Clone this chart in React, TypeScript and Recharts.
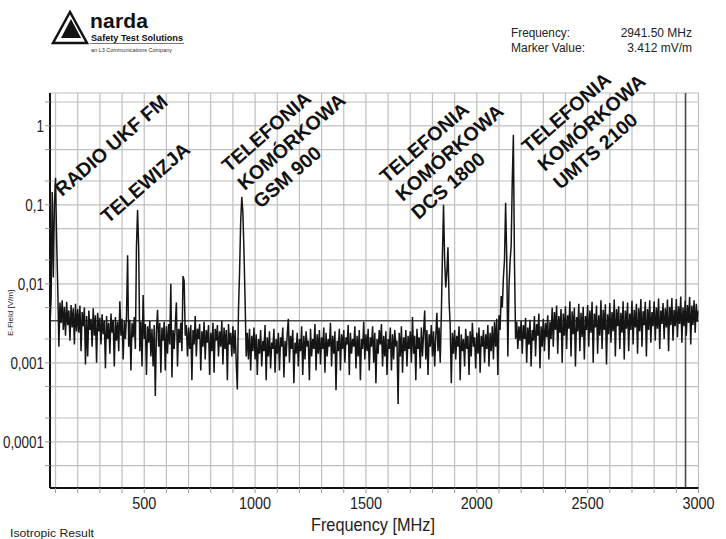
import { LineChart, Line, XAxis, YAxis, CartesianGrid, ReferenceLine } from 'recharts';

// sweep of the analyser: 75 MHz .. 3000 MHz, 5 MHz per sample
const sweepStartMhz = 75;
const sweepStepMhz = 5;

// isotropic E-field, in mV/m (one value per sample)
const fieldMv = [
    3.0, 6.5, 145, 12, 105,
    220, 35, 9, 1.6, 5.8, 3.2, 6.2, 2.6, 5.1, 2.2, 5.9, 3.0, 4.6, 1.9, 5.4, 2.8, 4.9, 1.7, 5.6, 2.5,
    4.8, 2.4, 5.3, 1.4, 4.4, 2.9, 5.0, 0.95, 3.9, 1.2, 4.6, 2.6, 3.6, 1.6, 4.9, 2.2, 4.0, 1.0, 4.3, 2.5,
    3.7, 1.7, 4.1, 2.3, 3.4, 0.85, 3.9, 2.0, 3.2, 1.3, 4.2, 2.4, 3.5, 0.9, 3.8, 1.9, 3.3, 1.4, 6.0, 2.2,
    3.6, 1.1, 3.4, 2.0, 3.9, 23, 1.6, 3.5, 0.8, 3.2, 2.1, 3.8, 1.5, 30, 86, 28, 1.4, 3.3, 0.9, 7.2,
    2.0, 3.1, 0.7, 2.9, 1.8, 3.4, 1.2, 2.7, 0.9, 3.0, 0.38, 2.5, 4.7, 1.6, 3.2, 0.75, 2.8, 1.9, 3.3, 0.8,
    2.9, 1.3, 3.1, 1.7, 10, 0.65, 2.6, 1.5, 3.0, 5.8, 0.9, 2.7, 1.8, 3.2, 1.4, 12.5, 11, 2.2, 3.0, 1.2,
    2.8, 1.5, 3.0, 0.6, 2.6, 1.7, 3.9, 1.2, 2.7, 2.0, 3.1, 0.8, 2.5, 1.6, 3.3, 1.1, 2.6, 1.8, 3.0, 0.7,
    2.4, 1.4, 3.2, 0.75, 2.7, 1.9, 3.0, 1.2, 2.5, 1.6, 3.4, 0.95, 2.8, 1.5, 2.6, 0.6, 3.1, 1.7, 2.4, 1.2,
    2.9, 1.3, 2.6, 1.0, 0.46, 4.5, 14, 60, 126, 80, 25, 6, 1.2, 2.4, 1.1, 2.7, 0.8, 2.2, 1.4, 2.8,
    1.1, 2.3, 0.7, 2.0, 1.3, 2.6, 0.9, 1.9, 1.4, 3.0, 0.6, 2.1, 1.2, 2.5, 0.85, 1.8, 1.5, 2.7, 0.75, 2.0,
    1.3, 2.4, 0.8, 2.1, 1.6, 2.8, 0.65, 1.9, 1.2, 2.3, 3.6, 1.0, 2.2, 1.5, 2.6, 0.55, 1.8, 1.3, 2.4, 0.9,
    2.0, 1.4, 2.9, 0.7, 2.2, 1.1, 2.5, 1.6, 1.9, 0.6, 2.7, 1.2, 2.0, 1.5, 3.1, 0.8, 2.3, 1.3, 2.6, 0.95,
    2.1, 1.5, 2.8, 0.75, 2.4, 1.2, 2.0, 1.6, 3.2, 0.9, 2.2, 1.3, 2.5, 0.45, 1.9, 1.4, 2.7, 0.8, 2.3, 1.5,
    2.6, 1.0, 2.1, 1.7, 3.0, 0.7, 2.4, 1.3, 2.0, 1.6, 2.9, 0.85, 2.2, 1.2, 2.6, 0.6, 2.0, 1.5, 3.3, 1.1,
    2.3, 1.4, 2.7, 0.8, 2.1, 1.6, 2.9, 1.0, 2.4, 0.55, 2.0, 1.3, 2.6, 1.7, 3.1, 0.9, 2.2, 1.2, 2.5, 0.7,
    2.0, 1.5, 2.8, 0.8, 2.3, 1.1, 2.6, 1.6, 1.9, 0.3, 2.4, 1.2, 2.9, 0.75, 2.1, 1.4, 2.6, 0.9, 2.2, 1.5,
    2.5, 1.0, 3.8, 1.3, 2.2, 0.6, 2.7, 1.5, 2.1, 0.85, 2.8, 1.2, 2.4, 4.6, 1.1, 2.6, 0.7, 2.3, 1.6, 3.0,
    1.2, 2.5, 0.9, 2.2, 4.3, 1.4, 2.8, 1.0, 4.0, 23, 100, 20, 9, 14, 29, 6, 3.0, 0.55, 2.4, 1.3,
    2.6, 1.1, 2.2, 1.6, 2.9, 0.6, 2.3, 1.4, 2.0, 0.9, 2.7, 1.5, 2.2, 0.7, 2.5, 1.2, 3.2, 1.6, 2.1, 0.85,
    2.4, 1.3, 2.8, 0.75, 2.2, 1.6, 2.6, 1.0, 2.3, 1.5, 3.0, 0.9, 2.4, 1.4, 2.9, 1.1, 3.3, 1.6, 3.6, 0.7,
    4.0, 2.6, 7.0, 5.0, 12, 20, 106, 22, 1.2, 9, 19, 30, 200, 770, 18, 2.0, 3.3, 1.5, 2.9, 1.9,
    3.4, 1.3, 3.0, 2.0, 3.7, 1.0, 2.8, 1.7, 3.5, 0.9, 2.6, 1.9, 3.9, 1.2, 3.1, 2.2, 4.2, 0.85, 2.9, 1.6,
    3.6, 1.4, 3.2, 2.1, 4.0, 1.1, 3.3, 2.0, 5.0, 1.6, 4.4, 2.6, 5.3, 1.3, 3.9, 2.4, 4.8, 1.0, 4.2, 2.2,
    5.2, 1.5, 4.0, 2.7, 6.0, 1.2, 4.5, 2.3, 5.0, 0.9, 3.8, 2.5, 5.6, 1.4, 4.3, 2.1, 5.1, 1.1, 3.9, 2.6,
    5.4, 1.6, 4.6, 2.4, 5.9, 1.0, 4.2, 2.8, 5.3, 1.3, 4.0, 2.2, 6.2, 1.5, 4.7, 2.6, 5.5, 0.95, 4.1, 2.3,
    5.7, 1.8, 4.4, 2.5, 6.3, 1.2, 4.8, 2.9, 5.2, 1.5, 4.3, 2.4, 6.0, 1.1, 4.6, 2.7, 5.8, 1.4, 4.2, 2.6,
    6.1, 1.7, 4.7, 2.8, 5.6, 1.3, 4.9, 2.5, 6.4, 1.6, 4.5, 3.0, 5.9, 1.2, 4.8, 2.6, 6.2, 1.8, 4.4, 2.9,
    6.0, 1.9, 5.0, 2.7, 6.5, 1.5, 4.6, 3.1, 5.7, 2.0, 4.9, 2.8, 6.3, 1.4, 5.1, 3.0, 6.6, 1.9, 4.7, 2.9,
    6.4, 2.1, 5.2, 3.1, 6.9, 1.8, 5.0, 2.9, 6.1, 2.2, 5.4, 3.2, 6.8, 1.7, 5.3, 3.0, 6.2, 2.4, 5.6, 3.3,
    4.6
];

const freqTicks = [
    100, 200, 300, 400, 500, 600, 700, 800, 900, 1000, 1100, 1200, 1300, 1400, 1500,
    1600, 1700, 1800, 1900, 2000, 2100, 2200, 2300, 2400, 2500, 2600, 2700, 2800, 2900, 3000
];
const freqLabels = [500, 1000, 1500, 2000, 2500, 3000];

const fieldTicks = [
    0.00005, 0.0001, 0.0002, 0.0005, 0.001, 0.002, 0.005,
    0.01, 0.02, 0.05, 0.1, 0.2, 0.5, 1, 2
];
const decadeTicks = [0.0001, 0.001, 0.01, 0.1, 1];
const decadeLabels = ['0,0001', '0,001', '0,01', '0,1', '1'];

// marker readout
const markerFreq = 2941.5;
const markerMv = 3.412;

// band annotations (lines of each rotated label)
const bandNotes = [
    { lines: ['RADIO UKF FM'], x: 62, y: 197 },
    { lines: ['TELEWIZJA'], x: 108, y: 224 },
    { lines: ['TELEFONIA', 'KOMÓRKOWA', 'GSM 900'], x: 229, y: 173 },
    { lines: ['TELEFONIA', 'KOMÓRKOWA', 'DCS 1800'], x: 387, y: 184 },
    { lines: ['TELEFONIA', 'KOMÓRKOWA', 'UMTS 2100'], x: 529, y: 154 }
];

const sans = "'Liberation Sans', Arial, sans-serif";

const rows = fieldMv.map((mv, i) => ({
    f: sweepStartMhz + i * sweepStepMhz,
    e: mv / 1000
}));

// axis labels in the plotter's narrow face
const FreqTick = ({ x, y, payload }: any) => {
    if (!freqLabels.includes(payload.value)) return null;
    return (
        <text
            transform={`translate(${x} ${y}) scale(0.85 1)`}
            dy="0.72em"
            textAnchor="middle"
            fontFamily={sans}
            fontSize={17}
            fill="#222"
        >
            {payload.value}
        </text>
    );
};

const FieldTick = ({ x, y, payload }: any) => {
    const k = decadeTicks.indexOf(payload.value);
    if (k < 0) return null;
    return (
        <text
            transform={`translate(${x} ${y}) scale(0.84 1)`}
            dy="0.36em"
            textAnchor="end"
            fontFamily={sans}
            fontSize={16}
            fill="#222"
        >
            {decadeLabels[k]}
        </text>
    );
};

const App = () => {
    const angle = -41;
    const lineStep = 24;
    const rad = (angle * Math.PI) / 180;
    // perpendicular shift between stacked lines of a rotated label
    const dx = -Math.sin(rad) * lineStep;
    const dy = Math.cos(rad) * lineStep;

    return (
        <div style={{ position: 'absolute', left: 0, top: 0, width: 726, height: 539, background: '#fff' }}>
            <LineChart
                width={726}
                height={539}
                data={rows}
                margin={{ top: 93, right: 27.5, bottom: 21, left: 0 }}
            >
                <CartesianGrid stroke="#c0c0c0" strokeWidth={1.2} />
                <XAxis
                    dataKey="f"
                    type="number"
                    domain={[75, 3000]}
                    ticks={freqTicks}
                    interval={0}
                    allowDataOverflow
                    height={30}
                    tickSize={5}
                    tickMargin={4}
                    tick={<FreqTick />}
                    axisLine={{ stroke: '#111', strokeWidth: 2 }}
                    tickLine={{ stroke: '#999' }}
                />
                <YAxis
                    scale="log"
                    domain={[0.000026, 2.6]}
                    ticks={fieldTicks}
                    interval={0}
                    allowDataOverflow
                    width={50}
                    tickSize={5}
                    tickMargin={1}
                    tick={<FieldTick />}
                    axisLine={{ stroke: '#111', strokeWidth: 2 }}
                    tickLine={{ stroke: '#999' }}
                />
                <ReferenceLine y={markerMv / 1000} stroke="#4a4a4a" strokeWidth={1.6} />
                <ReferenceLine x={markerFreq} stroke="#4a4a4a" strokeWidth={1.6} />
                <Line
                    type="linear"
                    dataKey="e"
                    stroke="#151515"
                    strokeWidth={1.5}
                    strokeLinejoin="miter"
                    dot={false}
                    isAnimationActive={false}
                />
            </LineChart>

            <svg
                width={726}
                height={539}
                style={{ position: 'absolute', left: 0, top: 0, pointerEvents: 'none' }}
            >
                {/* narda logo */}
                <polygon points="53,43 70,12 87,43" fill="none" stroke="#111" strokeWidth={2.5} />
                <polygon points="61,38 71,19 81,38" fill="#111" />
                <text x={90} y={28} fontFamily={sans} fontWeight="bold" fontSize={21} fill="#111" textLength={58}>
                    narda
                </text>
                <text x={91} y={41} fontFamily={sans} fontWeight="bold" fontSize={8.5} fill="#111" textLength={92} lengthAdjust="spacingAndGlyphs">
                    Safety Test Solutions
                </text>
                <line x1={90} y1={43.5} x2={184} y2={43.5} stroke="#555" strokeWidth={0.8} />
                <text x={91} y={51.5} fontFamily={sans} fontSize={5.5} fill="#333" textLength={81} lengthAdjust="spacingAndGlyphs">
                    an L3 Communications Company
                </text>

                {/* marker readout */}
                <g fontFamily={sans} fontSize={12} fill="#222">
                    <text x={511} y={37} textLength={59} lengthAdjust="spacingAndGlyphs">Frequency:</text>
                    <text x={692} y={37} textAnchor="end">2941.50 MHz</text>
                    <text x={511} y={52} textLength={74} lengthAdjust="spacingAndGlyphs">Marker Value:</text>
                    <text x={692} y={52} textAnchor="end">3.412 mV/m</text>
                </g>

                {/* band labels */}
                {bandNotes.map((note, n) => (
                    <g key={n} fontFamily={sans} fontWeight="bold" fontSize={19.5} fill="#111">
                        {note.lines.map((ln, j) => {
                            const x = note.x + dx * j;
                            const y = note.y + dy * j;
                            return (
                                <text key={j} x={x} y={y} transform={`rotate(${angle} ${x} ${y})`}>
                                    {ln}
                                </text>
                            );
                        })}
                    </g>
                ))}

                {/* axis titles */}
                <text
                    x={13}
                    y={313}
                    fontFamily={sans}
                    fontSize={8}
                    fill="#222"
                    textAnchor="middle"
                    transform="rotate(-90 13 313)"
                >
                    E-Field [V/m]
                </text>
                <text
                    x={373}
                    y={531}
                    fontFamily={sans}
                    fontSize={19}
                    fill="#222"
                    textAnchor="middle"
                    textLength={124}
                    lengthAdjust="spacingAndGlyphs"
                >
                    Frequency [MHz]
                </text>
                <text x={10} y={537} fontFamily={sans} fontSize={11} fill="#222" textLength={84} lengthAdjust="spacingAndGlyphs">
                    Isotropic Result
                </text>
            </svg>
        </div>
    );
};

export default App;
